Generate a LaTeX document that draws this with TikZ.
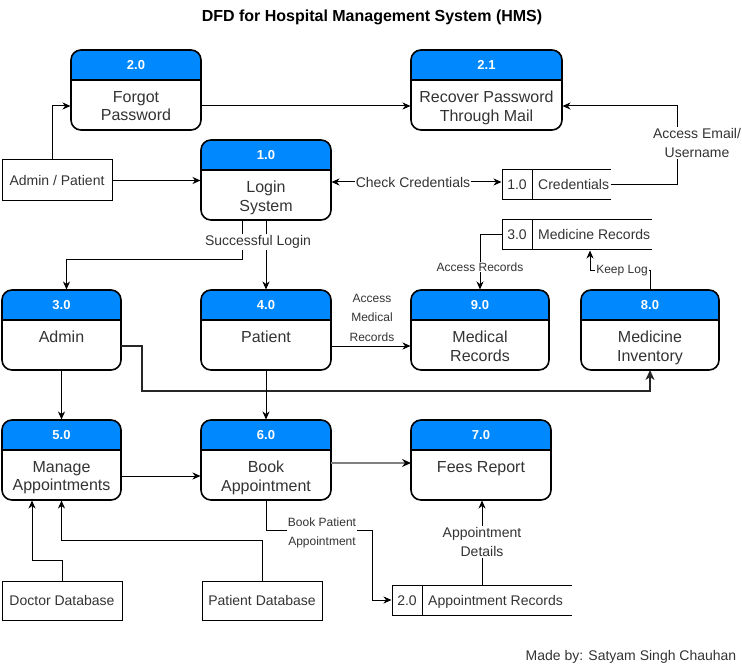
\documentclass[tikz,border=0pt]{standalone}
\usepackage{fontspec}
\setmainfont{Liberation Sans}
\usetikzlibrary{arrows.meta,calc}

\definecolor{hdrblue}{RGB}{0,136,255}
\definecolor{txtgray}{RGB}{51,51,51}
\definecolor{linegray}{RGB}{128,128,128}

\tikzset{
    procshape/.style={rectangle, minimum height=80pt, inner sep=0pt, outer sep=0pt},
    procline/.style={draw=black, line width=1.6pt},
    hdrtxt/.style={text=white, font=\bfseries\fontsize{13}{15}\selectfont},
    proctxt/.style={anchor=north, inner sep=0pt, align=center, text=txtgray, font=\fontsize{16}{18.5}\selectfont},
    entity/.style={draw=black, line width=1pt, inner sep=0pt, text=txtgray, text height=10pt, text depth=0pt, font=\fontsize{14}{17}\selectfont},
    storeshape/.style={rectangle, minimum height=30pt, inner sep=0pt, outer sep=0pt},
    storeline/.style={draw=black, line width=1pt},
    storetxt/.style={inner sep=0pt, text=txtgray, text height=10pt, text depth=0pt, font=\fontsize{14}{17}\selectfont},
    flow/.style={draw=black, line width=1pt, shorten >=0.5pt, -{Stealth[length=8pt,width=7pt,inset=2.5pt]}},
    flowboth/.style={draw=black, line width=1pt, shorten >=0.5pt, shorten <=0.5pt, {Stealth[length=8pt,width=7pt,inset=2.5pt]}-{Stealth[length=8pt,width=7pt,inset=2.5pt]}},
    thickflow/.style={draw=black!85, line width=1.8pt, -{Stealth[length=10pt,width=9pt,inset=3pt]}},
    grayflow/.style={draw=linegray, line width=1.6pt, -{Stealth[length=9pt,width=8pt,inset=3pt,color=black]}},
    lbl/.style={inner sep=1pt, align=center, text=txtgray, font=\fontsize{14}{19}\selectfont},
    slbl/.style={inner sep=1pt, align=center, text=txtgray, font=\fontsize{12}{19.5}\selectfont},
    title/.style={text=black, font=\bfseries\fontsize{16}{19}\selectfont}
}

\begin{document}
\begin{tikzpicture}[x=1pt,y=-1pt]
    \useasboundingbox (0,0) rectangle (742,671);

    \node[title] (ttl) at (372,17) {DFD for Hospital Management System (HMS)};

    % processes
    \foreach \nm/\lx/\ty/\bw/\num/\txt in {
        p20/71/50/130/2.0/{Forgot\\Password},
        p21/411/50/151/2.1/{Recover Password\\Through Mail},
        p10/201/140/130/1.0/{Login\\System},
        p30/2/290/119/3.0/Admin,
        p40/201/290/130/4.0/Patient,
        p90/411/290/138/9.0/{Medical\\Records},
        p80/581/290/138/8.0/{Medicine\\Inventory},
        p50/2/420/119/5.0/{Manage\\Appointments},
        p60/201/420/130/6.0/{Book\\Appointment},
        p70/411/420/140/7.0/{Fees Report}}{
        \node[procshape, minimum width=\bw pt] (\nm) at ({\lx+\bw/2},{\ty+40}) {};
        \begin{scope}
            \clip (\nm.north west) rectangle ([yshift=-30pt]\nm.north east);
            \fill[hdrblue, rounded corners=10pt] (\nm.north west) rectangle (\nm.south east);
        \end{scope}
        \draw[procline, rounded corners=10pt] (\nm.north west) rectangle (\nm.south east);
        \draw[procline] ([yshift=-30pt]\nm.north west) -- ([yshift=-30pt]\nm.north east);
        \node[hdrtxt] (\nm-num) at ([yshift=-15pt]\nm.north) {\num};
        \node[proctxt] (\nm-txt) at ([yshift=-41pt]\nm.north) {\txt};
    }

    % external entities
    \node[entity, minimum width=110pt, minimum height=41pt] (ap) at (57,180.5) {Admin / Patient};
    \node[entity, minimum width=120pt, minimum height=39pt] (dd) at (62,600.5) {Doctor Database};
    \node[entity, minimum width=120pt, minimum height=39pt] (pd) at (262,600.5) {Patient Database};

    % data stores
    \foreach \nm/\lx/\ty/\bw/\num/\txt in {
        cred/502/170/109/1.0/Credentials,
        medrec/502/220/150/3.0/{Medicine Records},
        apptrec/392/585/180/2.0/{Appointment Records}}{
        \node[storeshape, minimum width=\bw pt] (\nm) at ({\lx+\bw/2},{\ty+15}) {};
        \draw[storeline] (\nm.north east) -- (\nm.north west) -- (\nm.south west) -- (\nm.south east);
        \draw[storeline] ([xshift=30pt]\nm.north west) -- ([xshift=30pt]\nm.south west);
        \node[storetxt] (\nm-num) at ([xshift=15pt]\nm.west) {\num};
        \node[storetxt, anchor=west] (\nm-txt) at ([xshift=36pt]\nm.west) {\txt};
    }

    % flows
    \draw[flow] ([xshift=-5pt]ap.north) |- ([yshift=-16pt]p20.west);
    \draw[flow] ([yshift=-16pt]p20.east) -- ([yshift=-16pt]p21.west);
    \draw[flow] (ap.east) -- (ap.east -| p10.west);
    \draw[flowboth] ([yshift=-2pt]p10.east) -- ([yshift=-2pt]p10.east -| cred.west);
    \node[lbl, fill=white] (lcheck) at (413,182) {Check Credentials};
    \draw[flow] (cred.east) -- ++(66,0) |- ([yshift=-16pt]p21.east);
    \node[lbl, fill=white] (lemail) at (697,143) {Access Email/\\Username};

    \draw[flow] ([xshift=-24pt]p10.south) -- ++(0,40) -| ([xshift=5pt]p30.north);
    \draw[flow] (p10.south) -- (p40.north);
    \node[lbl, fill=white] (llogin) at (258,242) {Successful Login};

    \draw[thickflow] ([yshift=-16pt]p30.east) -- ++(21,0) -- ++(0,45) -| (p80.south);
    \draw[flow] ([yshift=-16pt]p40.east) -- ([yshift=-16pt]p90.west);
    \node[slbl] (lmed) at (372,317.5) {Access\\Medical\\Records};

    \draw[flow] (medrec.west) -| (p90.north);
    \node[slbl, fill=white] (lrec) at (480,267) {Access Records};
    \draw[flow] (p80.north) -- ++(0,-19) -| ([xshift=13pt]medrec.south);
    \node[slbl, fill=white] (llog) at (622,271) {Keep Log};

    \draw[flow] (p30.south) -- (p50.north);
    \draw[flow] (p40.south) -- (p60.north);
    \draw[flow] ([yshift=-16pt]p50.east) -- ([yshift=-16pt]p60.west);
    \draw[grayflow] ([yshift=-3pt]p60.east) -- ([yshift=-3pt]p70.west);

    \draw[flow] (p60.south) -- ++(0,30) -- ++(106,0) |- (apptrec.west);
    \node[slbl, fill=white] (lbook) at (322,533) {Book Patient\\Appointment};
    \draw[flow] (apptrec.north) -- (apptrec.north |- p70.south);
    \node[lbl, fill=white] (ldet) at (482,542) {Appointment\\Details};

    \draw[flow] (dd.north) -- ++(0,-20) -| ([xshift=-29.5pt]p50.south);
    \draw[flow] (pd.north) -- ++(0,-40) -| (p50.south);

    \node[lbl] (credit) at (631,657) {Made by: Satyam Singh Chauhan};
\end{tikzpicture}
\end{document}
